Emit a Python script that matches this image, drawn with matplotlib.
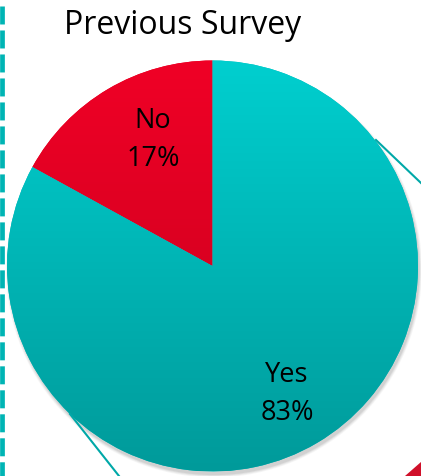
import numpy as np
import matplotlib
matplotlib.use("Agg")
import matplotlib.pyplot as plt
from matplotlib.colors import LinearSegmentedColormap
from matplotlib.patches import Circle, Polygon

# Data
labels = ["No", "Yes"]
values = [17, 83]
title = "Previous Survey"

W, H = 421, 476
fig = plt.figure(figsize=(W / 100, H / 100), dpi=100)
ax = fig.add_axes([0, 0, 1, 1])
ax.set_xlim(0, W)
ax.set_ylim(0, H)
ax.set_aspect("equal")
ax.axis("off")

cx, cy, r = 212.5, 476 - 266, 205.5

# Shadow behind pie
for i, a in enumerate([0.05, 0.06, 0.08, 0.10]):
    ax.add_patch(Circle((cx + 1.5, cy - 3.5), r + 2.5 - i * 0.8, color="#555555",
                        alpha=a, lw=0, zorder=1))

wedges, _ = ax.pie(values, center=(cx, cy), radius=r, startangle=90,
                   counterclock=True, frame=True,
                   colors=["#e0001f", "#00bdbd"],
                   wedgeprops=dict(linewidth=0))
for w in wedges:
    w.set_zorder(2)

grads = [
    LinearSegmentedColormap.from_list("red", ["#c4001c", "#f00026"]),
    LinearSegmentedColormap.from_list("teal", ["#009a9a", "#00cfcf"]),
]
grad = np.linspace(0, 1, 256).reshape(-1, 1)
for w, cm in zip(wedges, grads):
    im = ax.imshow(grad, cmap=cm, origin="lower", aspect="auto",
                   extent=(cx - r, cx + r, cy - r, cy + r), zorder=3)
    im.set_clip_path(w)

ax.set_xlim(0, W)
ax.set_ylim(0, H)
ax.axis("off")

font = "Open Sans"
ax.text(183, H - 25, title, ha="center", va="center", fontsize=23, family=font,
        color="black", zorder=5)
lfs = 19.5
ax.text(153, H - 121, labels[0], ha="center", va="center", fontsize=lfs, family=font, zorder=5)
ax.text(153, H - 159, f"{values[0]}%", ha="center", va="center", fontsize=lfs, family=font, zorder=5)
ax.text(287, H - 375, labels[1], ha="center", va="center", fontsize=lfs, family=font, zorder=5)
ax.text(287, H - 413, f"{values[1]}%", ha="center", va="center", fontsize=lfs, family=font, zorder=5)

# connector lines
ax.plot([376, 421], [H - 140, H - 183], color="#00a8a8", lw=1.5, zorder=4)
ax.plot([70, 119], [H - 414, H - 476], color="#00a8a8", lw=1.5, zorder=4)

# red corner shape
ax.add_patch(Polygon([(405, 0), (421, 14), (421, 0)], closed=True,
                     color="#d0102a", lw=0, zorder=4))

# left dashed border
ax.plot([2.3, 2.3], [H, 0], color="#00b4b4", lw=3.4,
        linestyle=(3.81, (3.81, 1.27)), zorder=4, solid_capstyle="butt",
        dash_capstyle="butt")

fig.savefig("out.png", dpi=100)
